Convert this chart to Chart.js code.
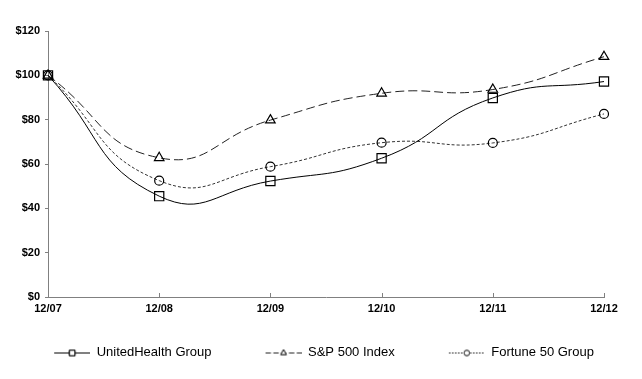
<!DOCTYPE html>
<html>
<head>
<meta charset="utf-8">
<script src="https://cdn.jsdelivr.net/npm/chart.js@4/dist/chart.umd.min.js"></script>
<style>
  html, body { margin: 0; padding: 0; background: #fff; }
  #wrap { width: 642px; height: 379px; }
</style>
</head>
<body>
<div id="wrap"><canvas id="myChart" width="642" height="379"></canvas></div>
<script>
// data
const years = ["12/07", "12/08", "12/09", "12/10", "12/11", "12/12"];
const unitedHealth = [100, 45.5, 52.3, 62.6, 89.8, 97.2];
const sp500 = [100, 62.8, 79.8, 91.9, 93.6, 108.4];
const fortune50 = [100, 52.5, 58.8, 69.6, 69.5, 82.6];
const seriesNames = ["UnitedHealth Group", "S&P 500 Index", "Fortune 50 Group"];
const yTicks = [0, 20, 40, 60, 80, 100, 120];

const styles = [
  { color: "#000", dash: [], point: "rect", radius: 6.5 },
  { color: "#222", dash: [9, 4], point: "triangle", radius: 5.5 },
  { color: "#333", dash: [3, 2], point: "circle", radius: 4.5 },
];

const sampleW = 80; // legend box width, sample sits at its right end

// little legend sample: line with the marker in the middle
function legendSample(s) {
  const c = document.createElement("canvas");
  c.width = sampleW;
  c.height = 12;
  const g = c.getContext("2d");
  const x0 = sampleW - 36;
  g.strokeStyle = s.color;
  g.lineWidth = 1;
  g.setLineDash(s.dash.length ? s.dash.map((d) => d * 0.6) : []);
  g.beginPath();
  g.moveTo(x0, 6.5);
  g.lineTo(sampleW, 6.5);
  g.stroke();
  g.setLineDash([]);
  Chart.helpers.drawPoint(g, { pointStyle: s.point, radius: s.radius * 0.6, borderWidth: 1 }, x0 + 18, 6.5);
  g.fillStyle = "#fff";
  g.fill();
  g.stroke();
  return c;
}

// x tick marks point up into the plot, like the original
const innerTicks = {
  id: "innerTicks",
  afterDraw(chart) {
    const x = chart.scales.x;
    const g = chart.ctx;
    g.save();
    g.strokeStyle = "#808080";
    g.lineWidth = 1;
    x.ticks.forEach((t, i) => {
      const px = Math.round(x.getPixelForTick(i)) + 0.5;
      g.beginPath();
      g.moveTo(px, x.top);
      g.lineTo(px, x.top - 4);
      g.stroke();
    });
    g.restore();
  },
};

const ctx = document.getElementById("myChart");
const allData = [unitedHealth, sp500, fortune50];

new Chart(ctx, {
  type: "line",
  data: {
    labels: years,
    datasets: allData.map((vals, i) => ({
      label: seriesNames[i],
      data: vals,
      borderColor: styles[i].color,
      borderWidth: 1,
      borderDash: styles[i].dash,
      tension: 0.5,
      pointStyle: styles[i].point,
      pointRadius: styles[i].radius,
      pointBackgroundColor: "rgba(255,255,255,0)",
      pointBorderColor: "#000",
      pointBorderWidth: 1.2,
      fill: false,
    })),
  },
  plugins: [innerTicks],
  options: {
    responsive: false,
    animation: false,
    layout: { padding: { top: 31, right: 38, left: 0, bottom: 10 } },
    plugins: {
      tooltip: { enabled: false },
      legend: {
        position: "bottom",
        labels: {
          usePointStyle: true,
          pointStyleWidth: sampleW,
          padding: 10,
          color: "#000",
          font: { family: "Liberation Sans, Arial", size: 13 },
          generateLabels: (chart) =>
            seriesNames.map((name, i) => ({
              text: name,
              pointStyle: legendSample(styles[i]),
              datasetIndex: i,
              fontColor: "#000",
              strokeStyle: "#000",
              lineWidth: 0,
            })),
        },
      },
    },
    scales: {
      x: {
        offset: false,
        grid: { drawOnChartArea: false, drawTicks: false },
        border: { color: "#808080", width: 1 },
        ticks: {
          color: "#000",
          padding: 5,
          maxRotation: 0,
          autoSkip: false,
          font: { family: "Liberation Sans, Arial", size: 11, weight: "bold" },
        },
        afterFit: (scale) => { scale.height = 39; },
      },
      y: {
        min: 0,
        max: 120,
        grid: { drawOnChartArea: false, drawTicks: true, tickLength: 3, color: "#808080" },
        border: { color: "#808080", width: 1 },
        afterBuildTicks: (scale) => { scale.ticks = yTicks.map((v) => ({ value: v })); },
        ticks: {
          color: "#000",
          padding: 5,
          callback: (v) => "$" + v,
          font: { family: "Liberation Sans, Arial", size: 11, weight: "bold" },
        },
        afterFit: (scale) => { scale.width = 48; },
      },
    },
  },
});
</script>
</body>
</html>
